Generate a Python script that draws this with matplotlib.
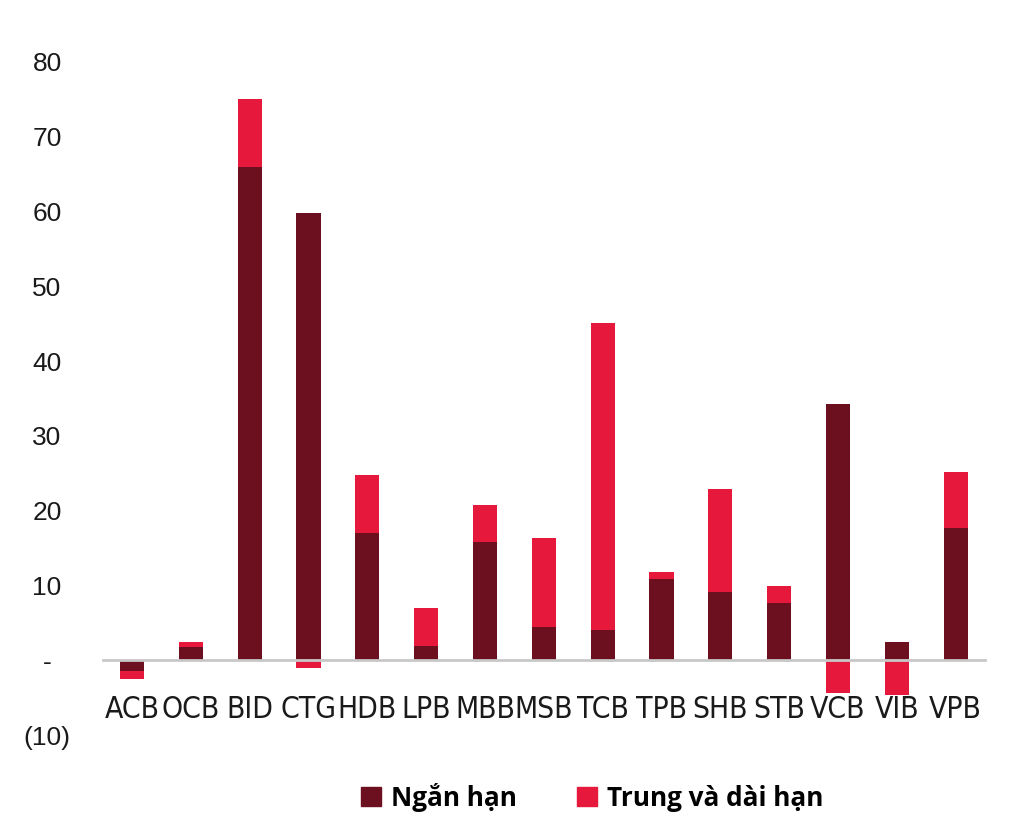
import numpy as np
import matplotlib.pyplot as plt
from matplotlib.patches import Patch

banks = ["ACB", "OCB", "BID", "CTG", "HDB", "LPB", "MBB", "MSB",
         "TCB", "TPB", "SHB", "STB", "VCB", "VIB", "VPB"]
short_term = [-1.5, 1.8, 66.0, 59.8, 17.0, 1.9, 15.8, 4.4,
              4.1, 10.8, 9.1, 7.6, 34.3, 2.4, 17.7]
long_term = [-1.0, 0.7, 9.0, -1.0, 7.8, 5.1, 4.9, 11.9,
             41.0, 1.0, 13.8, 2.3, -4.4, -4.6, 7.5]

dark = "#6c0f1e"
red = "#e6193c"

short_term = np.array(short_term)
long_term = np.array(long_term)
x = np.arange(len(banks))

# stack long-term on top of short-term, splitting positive and negative parts
pos_base = np.where(short_term > 0, short_term, 0)
neg_base = np.where(short_term < 0, short_term, 0)
lt_bottom = np.where(long_term >= 0, pos_base, neg_base)

fig = plt.figure(figsize=(10.16, 8.22), dpi=100)
ax = fig.add_axes([0.101, 0.1058, 0.8685, 0.8188])

w = 0.41
ax.bar(x, short_term, w, color=dark, zorder=2)
ax.bar(x, long_term, w, bottom=lt_bottom, color=red, zorder=2)

ax.set_xlim(-0.5, 14.5)
ax.set_ylim(-10, 80)

for s in ["top", "right", "left"]:
    ax.spines[s].set_visible(False)
ax.spines["bottom"].set_position(("data", 0))
ax.spines["bottom"].set_color("#c8c8c8")
ax.spines["bottom"].set_linewidth(2)
ax.spines["bottom"].set_zorder(3)

ax.set_xticks(x)
ax.set_xticklabels(banks, fontsize=21.5, family="DejaVu Sans", fontstretch="condensed",
                   color="#1a1a1a")
ax.tick_params(axis="x", length=0, pad=25)

yticks = np.arange(-10, 81, 10)
ylabels = ["(10)", "-"] + [str(v) for v in yticks[2:]]
ax.set_yticks(yticks)
ax.set_yticklabels(ylabels, fontsize=19, family="Liberation Sans", color="#1a1a1a",
                   ha="center")
ax.tick_params(axis="y", length=0, pad=40)

handles = [Patch(color=dark, label="Ngắn hạn"),
           Patch(color=red, label="Trung và dài hạn")]
fig.legend(handles=handles, loc="center", bbox_to_anchor=(0.583, 0.03), ncol=2,
           frameon=False, prop={"family": "Open Sans", "weight": "bold", "size": 18.8},
           handlelength=0.75, handleheight=0.75, handletextpad=0.4, columnspacing=2.3)

fig.savefig("out.png", dpi=100, facecolor="white")
